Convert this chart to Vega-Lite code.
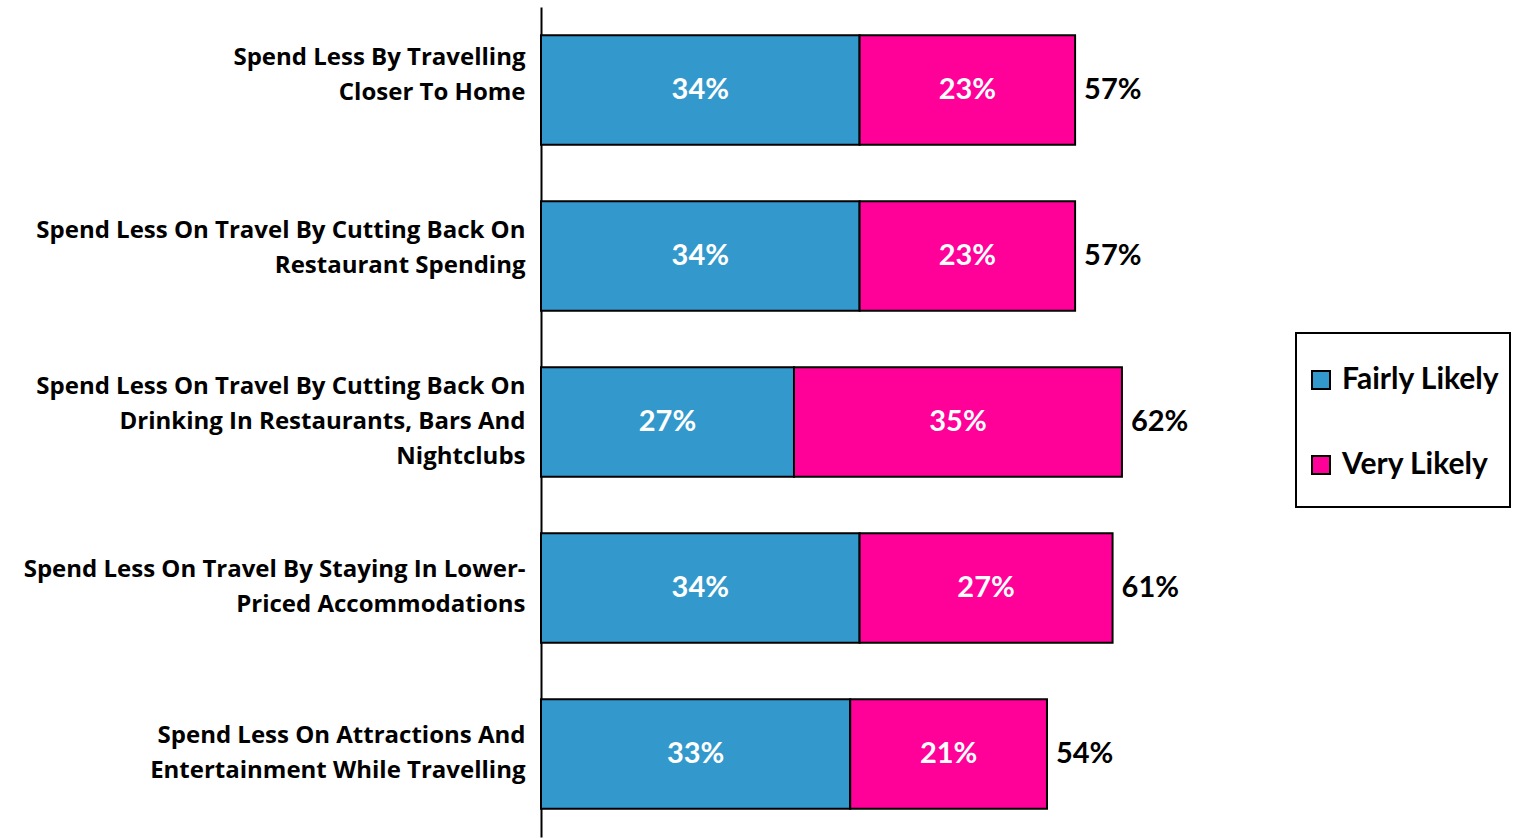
{
  "$schema": "https://vega.github.io/schema/vega-lite/v6.json",
  "autosize": "none",
  "padding": {"left": 541, "top": 7, "right": 36, "bottom": 1},
  "width": 937,
  "height": 830,
  "background": "white",
  "config": {"view": {"stroke": null}, "font": "Lato"},
  "data": {
    "values": [
      {"category": "Spend Less By Travelling|Closer To Home", "type": "Fairly Likely", "value": 34, "total": 57},
      {"category": "Spend Less By Travelling|Closer To Home", "type": "Very Likely", "value": 23, "total": 57},
      {"category": "Spend Less On Travel By Cutting Back On|Restaurant Spending", "type": "Fairly Likely", "value": 34, "total": 57},
      {"category": "Spend Less On Travel By Cutting Back On|Restaurant Spending", "type": "Very Likely", "value": 23, "total": 57},
      {"category": "Spend Less On Travel By Cutting Back On|Drinking In Restaurants, Bars And|Nightclubs", "type": "Fairly Likely", "value": 27, "total": 62},
      {"category": "Spend Less On Travel By Cutting Back On|Drinking In Restaurants, Bars And|Nightclubs", "type": "Very Likely", "value": 35, "total": 62},
      {"category": "Spend Less On Travel By Staying In Lower-|Priced Accommodations", "type": "Fairly Likely", "value": 34, "total": 61},
      {"category": "Spend Less On Travel By Staying In Lower-|Priced Accommodations", "type": "Very Likely", "value": 27, "total": 61},
      {"category": "Spend Less On Attractions And|Entertainment While Travelling", "type": "Fairly Likely", "value": 33, "total": 54},
      {"category": "Spend Less On Attractions And|Entertainment While Travelling", "type": "Very Likely", "value": 21, "total": 54}
    ]
  },
  "transform": [
    {"stack": "value", "groupby": ["category"], "sort": [{"field": "type"}], "as": ["v0", "v1"]},
    {"calculate": "(datum.v0 + datum.v1) / 2", "as": "mid"},
    {"calculate": "datum.value + '%'", "as": "valueLabel"},
    {"calculate": "datum.total + '%'", "as": "totalLabel"}
  ],
  "encoding": {
    "y": {
      "field": "category",
      "type": "nominal",
      "sort": null,
      "scale": {"paddingInner": 0.34, "paddingOuter": 0.17},
      "axis": {
        "title": null,
        "ticks": false,
        "labelPadding": 16,
        "labelExpr": "split(datum.label, '|')",
        "labelFont": "Open Sans",
        "labelFontSize": 24,
        "labelFontWeight": "bold",
        "labelColor": "black",
        "labelLineHeight": 35,
        "labelLimit": 0,
        "domainColor": "black",
        "domainWidth": 2,
        "grid": false,
        "labelOffset": {
          "condition": [
            {"test": "indexof(datum.value, 'Closer To Home') >= 0", "value": -32},
            {"test": "indexof(datum.value, 'Restaurant Spending') >= 0", "value": -25},
            {"test": "indexof(datum.value, 'Nightclubs') >= 0", "value": -35}
          ],
          "value": -18
        }
      }
    }
  },
  "layer": [
    {
      "mark": {"type": "bar", "stroke": "black", "strokeWidth": 2},
      "encoding": {
        "x": {"field": "v0", "type": "quantitative", "scale": {"domain": [0, 100]}, "axis": null},
        "x2": {"field": "v1"},
        "color": {
          "field": "type",
          "type": "nominal",
          "scale": {"domain": ["Fairly Likely", "Very Likely"], "range": ["#3399CC", "#FF0099"]},
          "legend": {
            "orient": "none",
            "legendX": 755,
            "legendY": 326,
            "title": " ",
            "titleFontSize": 22,
            "titlePadding": 0,
            "padding": 10,
            "strokeColor": "black",
            "fillColor": "white",
            "symbolType": "square",
            "symbolSize": 324,
            "symbolStrokeColor": "black",
            "symbolStrokeWidth": 2,
            "symbolOpacity": 1,
            "labelFont": "Lato",
            "labelFontSize": 30,
            "labelFontWeight": "bold",
            "labelColor": "black",
            "labelOffset": 6,
            "labelLimit": 0,
            "rowPadding": 55,
            "labelExpr": "datum.label == 'Very Likely' ? [datum.label, ' '] : datum.label",
            "encoding": {
              "legend": {"strokeWidth": {"value": 2}},
              "labels": {"lineHeight": {"value": 17}}
            }
          }
        }
      }
    },
    {
      "mark": {"type": "text", "color": "white", "fontSize": 29, "fontWeight": "bold", "font": "Lato", "align": "center", "baseline": "middle"},
      "encoding": {
        "x": {"field": "mid", "type": "quantitative"},
        "text": {"field": "valueLabel", "type": "nominal"}
      }
    },
    {
      "transform": [{"filter": "datum.type == 'Very Likely'"}],
      "mark": {"type": "text", "color": "black", "fontSize": 29, "fontWeight": "bold", "font": "Lato", "align": "left", "baseline": "middle", "dx": 9},
      "encoding": {
        "x": {"field": "total", "type": "quantitative"},
        "text": {"field": "totalLabel", "type": "nominal"}
      }
    }
  ]
}
